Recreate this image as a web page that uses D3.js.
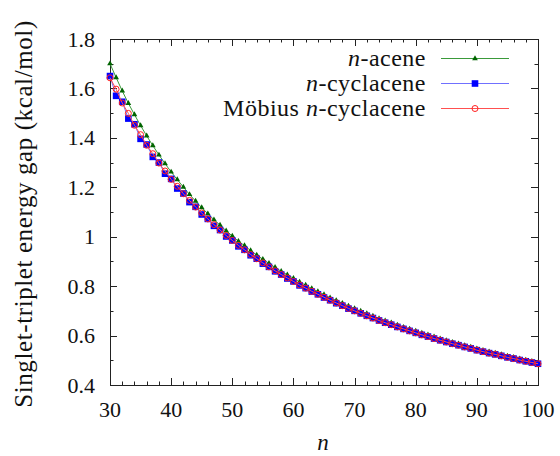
<!DOCTYPE html>
<html>
<head>
<meta charset="utf-8">
<script src="https://cdn.jsdelivr.net/npm/d3@7"></script>
<style>
  body { margin: 0; background: #fff; }
  svg text { font-family: "Liberation Serif", "DejaVu Serif", "Noto Serif", Times, serif; }
</style>
</head>
<body>
<script>
var width = 560;
var height = 456;
var margin = {left: 110, right: 22, top: 39, bottom: 71};

// n values (ring size)
var nValues = d3.range(30, 101);
// singlet-triplet gap (kcal/mol)
var aceneGap = [1.700, 1.644, 1.590, 1.540, 1.494, 1.450, 1.408, 1.369, 1.331, 1.296,
  1.262, 1.231, 1.201, 1.171, 1.144, 1.118, 1.093, 1.069, 1.047, 1.024,
  1.003, 0.982, 0.964, 0.944, 0.926, 0.909, 0.892, 0.876, 0.860, 0.846,
  0.832, 0.817, 0.804, 0.790, 0.778, 0.766, 0.753, 0.742, 0.731, 0.720,
  0.709, 0.699, 0.689, 0.679, 0.669, 0.660, 0.652, 0.643, 0.634, 0.626,
  0.618, 0.610, 0.603, 0.595, 0.587, 0.580, 0.573, 0.567, 0.560, 0.554,
  0.547, 0.540, 0.534, 0.529, 0.523, 0.517, 0.512, 0.506, 0.501, 0.496, 0.490];
var cyclaceneGap = [1.650, 1.570, 1.546, 1.478, 1.455, 1.396, 1.373, 1.323, 1.300, 1.255,
  1.234, 1.195, 1.175, 1.140, 1.121, 1.090, 1.072, 1.044, 1.027, 1.001,
  0.985, 0.961, 0.947, 0.925, 0.911, 0.891, 0.878, 0.860, 0.847, 0.831,
  0.819, 0.803, 0.792, 0.778, 0.767, 0.754, 0.743, 0.731, 0.721, 0.709,
  0.700, 0.690, 0.680, 0.671, 0.661, 0.652, 0.644, 0.635, 0.627, 0.619,
  0.611, 0.603, 0.596, 0.588, 0.581, 0.574, 0.567, 0.561, 0.554, 0.548,
  0.541, 0.535, 0.529, 0.524, 0.518, 0.512, 0.507, 0.501, 0.496, 0.491, 0.486];
var mobiusGap = [1.643, 1.597, 1.541, 1.499, 1.451, 1.413, 1.370, 1.336, 1.298, 1.266,
  1.232, 1.204, 1.174, 1.147, 1.120, 1.096, 1.072, 1.049, 1.027, 1.005,
  0.985, 0.965, 0.947, 0.928, 0.911, 0.894, 0.878, 0.862, 0.847, 0.833,
  0.819, 0.805, 0.792, 0.779, 0.767, 0.755, 0.743, 0.732, 0.721, 0.710,
  0.700, 0.690, 0.680, 0.671, 0.661, 0.652, 0.644, 0.635, 0.627, 0.619,
  0.611, 0.603, 0.596, 0.588, 0.581, 0.574, 0.567, 0.561, 0.554, 0.548,
  0.541, 0.535, 0.529, 0.524, 0.518, 0.512, 0.507, 0.501, 0.496, 0.491, 0.486];

var xTicks = [30, 40, 50, 60, 70, 80, 90, 100];
var yTicks = [0.4, 0.6, 0.8, 1.0, 1.2, 1.4, 1.6, 1.8];
var yTickLabels = ["0.4", "0.6", "0.8", "1", "1.2", "1.4", "1.6", "1.8"];

var series = [
  {pre: "n", label: "-acene", values: aceneGap, line: "#3a9a3a", marker: "triangle", fill: "#006400"},
  {pre: "n", label: "-cyclacene", values: cyclaceneGap, line: "#7070ff", marker: "square", fill: "#0000ff"},
  {pre: "n", label: "-cyclacene", mob: "Möbius ", values: mobiusGap, line: "#ff5050", marker: "circle", fill: "none"}
];

var x = d3.scaleLinear().domain([30, 100]).range([margin.left, width - margin.right]);
var y = d3.scaleLinear().domain([0.4, 1.8]).range([height - margin.bottom, margin.top]);

var svg = d3.select("body").append("svg")
  .attr("width", width)
  .attr("height", height);

// ticks, inward, on all four sides
function tickLines(g, vals, len, orient) {
  vals.forEach(function (v) {
    if (orient == "bottom" || orient == "top") {
      var px = Math.round(x(v)) + 0.5;
      var y0 = orient == "bottom" ? y(0.4) : y(1.8);
      var dir = orient == "bottom" ? -1 : 1;
      g.append("line").attr("x1", px).attr("x2", px)
        .attr("y1", y0).attr("y2", y0 + dir * len);
    } else {
      var py = Math.round(y(v)) + 0.5;
      var x0 = orient == "left" ? x(30) : x(100);
      var dir2 = orient == "left" ? 1 : -1;
      g.append("line").attr("y1", py).attr("y2", py)
        .attr("x1", x0).attr("x2", x0 + dir2 * len);
    }
  });
}
var axes = svg.append("g").attr("stroke", "#222").attr("stroke-width", 1);
var xMinor = d3.range(32, 100, 2).filter(function (v) { return v % 10 != 0; });
var yMinor = [0.5, 0.7, 0.9, 1.1, 1.3, 1.5, 1.7];
["bottom", "top"].forEach(function (o) {
  tickLines(axes, xTicks, 7, o);
  tickLines(axes, xMinor, 3.5, o);
});
["left", "right"].forEach(function (o) {
  tickLines(axes, yTicks, 7, o);
  tickLines(axes, yMinor, 3.5, o);
});
axes.append("rect")
  .attr("x", Math.round(x(30)) + 0.5)
  .attr("y", Math.round(y(1.8)) + 0.5)
  .attr("width", Math.round(x(100)) - Math.round(x(30)))
  .attr("height", Math.round(y(0.4)) - Math.round(y(1.8)))
  .attr("fill", "none");

// tick labels
svg.append("g").selectAll("text").data(xTicks).enter().append("text")
  .attr("x", function (d) { return x(d); })
  .attr("y", 416.5)
  .attr("text-anchor", "middle")
  .style("font-size", "22px")
  .attr("fill", "#111")
  .text(function (d) { return d; });
svg.append("g").selectAll("text").data(yTicks).enter().append("text")
  .attr("x", 95)
  .attr("y", function (d) { return y(d) + 7.5; })
  .attr("text-anchor", "end")
  .style("font-size", "22px")
  .attr("fill", "#111")
  .text(function (d, i) { return yTickLabels[i]; });

// axis titles
svg.append("text")
  .attr("x", 323).attr("y", 450)
  .attr("text-anchor", "middle")
  .style("font-size", "23px")
  .style("font-style", "italic")
  .attr("fill", "#111")
  .text("n");
svg.append("text")
  .attr("transform", "translate(32," + ((y(0.4) + y(1.8)) / 2 + 2) + ") rotate(-90)")
  .attr("text-anchor", "middle")
  .style("font-size", "25px")
  .style("letter-spacing", "0.6px")
  .attr("fill", "#111")
  .text("Singlet-triplet energy gap (kcal/mol)");

// curves
var line = d3.line()
  .x(function (d, i) { return x(nValues[i]); })
  .y(function (d) { return y(d); });

function drawMarker(g, kind, fill, cx, cy) {
  if (kind == "triangle") {
    g.append("path")
      .attr("d", d3.symbol().type(d3.symbolTriangle).size(14)())
      .attr("transform", "translate(" + cx + "," + cy + ")")
      .attr("fill", fill);
  } else if (kind == "square") {
    g.append("rect")
      .attr("x", cx - 3.3).attr("y", cy - 3.3)
      .attr("width", 6.6).attr("height", 6.6)
      .attr("fill", fill);
  } else {
    g.append("circle")
      .attr("cx", cx).attr("cy", cy).attr("r", 3)
      .attr("fill", "none")
      .attr("stroke", "#ff2020")
      .attr("stroke-width", 1);
  }
}

series.forEach(function (s) {
  var g = svg.append("g");
  g.append("path")
    .datum(s.values)
    .attr("d", line)
    .attr("fill", "none")
    .attr("stroke", s.line)
    .attr("stroke-width", 1);
  s.values.forEach(function (v, i) {
    drawMarker(g, s.marker, s.fill, x(nValues[i]), y(v));
  });
});

// legend
var legend = svg.append("g");
series.forEach(function (s, i) {
  var ly = 57.7 + i * 25;
  var t = legend.append("text")
    .attr("x", 426).attr("y", ly + 8)
    .attr("text-anchor", "end")
    .style("font-size", "24px")
    .style("letter-spacing", "0.5px")
    .attr("fill", "#111");
  if (s.mob) t.append("tspan").text(s.mob);
  t.append("tspan").style("font-style", "italic").text(s.pre);
  t.append("tspan").text(s.label);
  legend.append("line")
    .attr("x1", 441).attr("x2", 509)
    .attr("y1", Math.round(ly) + 0.5).attr("y2", Math.round(ly) + 0.5)
    .attr("stroke", s.line)
    .attr("stroke-width", 1);
  drawMarker(legend, s.marker, s.fill, 475, Math.round(ly) + 0.5);
});
</script>
</body>
</html>
